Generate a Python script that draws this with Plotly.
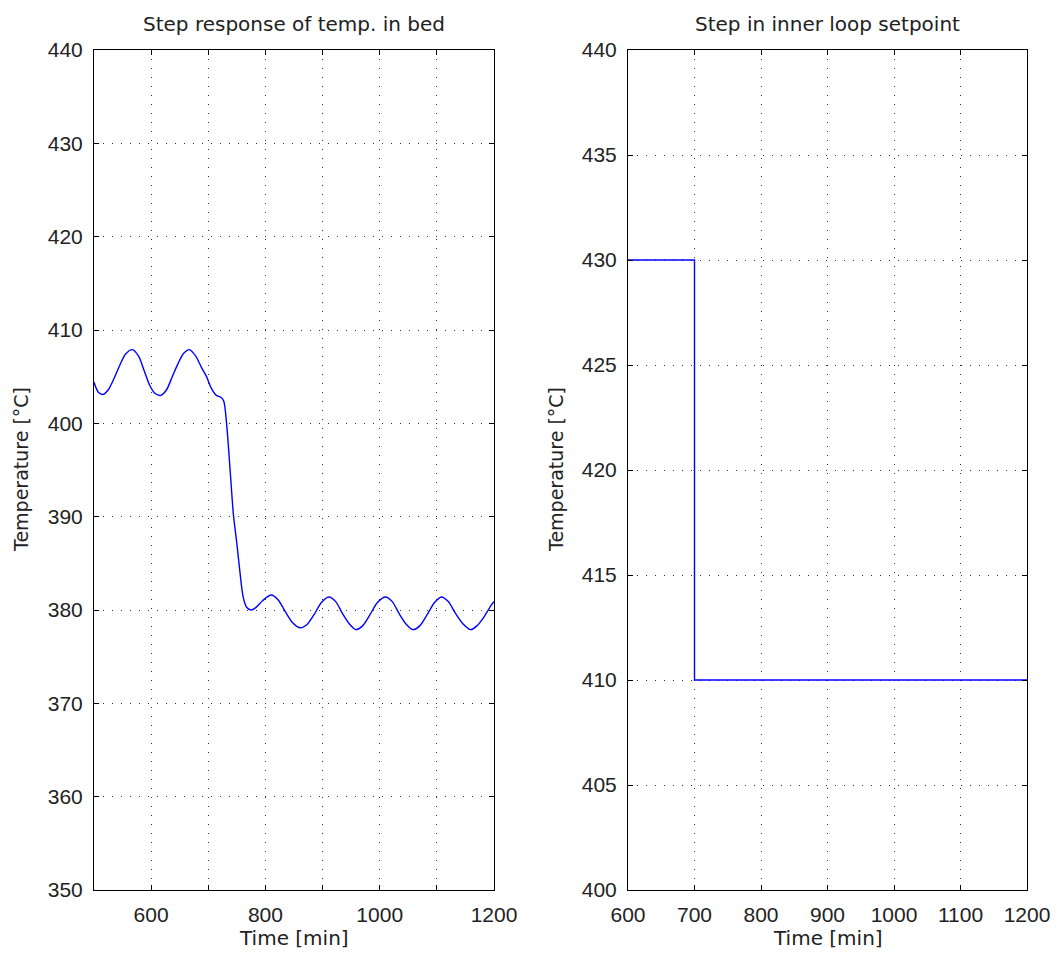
import plotly.graph_objects as go

# Left panel: step response of bed temperature
bed_time = [500, 508, 516, 525, 535, 545, 555, 567, 578, 588, 598, 607, 617, 627, 637, 647, 657, 667,
            678, 688, 697, 705, 714, 722, 727, 732, 739, 744, 750, 755, 761, 767, 775, 782, 795, 810,
            822, 835, 848, 860, 872, 885, 898, 911, 923, 935, 947, 958, 970, 983, 996, 1010, 1022,
            1034, 1046, 1058, 1070, 1083, 1096, 1108, 1120, 1133, 1146, 1159, 1170, 1183, 1196, 1200]
bed_temp = [404.4, 403.3, 403.1, 403.6, 404.8, 406.2, 407.4, 407.9, 407.2, 405.6, 404.0, 403.2, 403.0,
            403.6, 405.0, 406.4, 407.5, 407.9, 407.2, 406.0, 405.0, 403.8, 403.0, 402.8, 402.4, 400.0,
            394.3, 390.2, 387.1, 384.3, 381.4, 380.3, 380.0, 380.2, 381.0, 381.6, 381.1, 379.8, 378.6,
            378.1, 378.4, 379.5, 380.8, 381.4, 380.9, 379.6, 378.5, 377.9, 378.3, 379.5, 380.8, 381.4,
            380.9, 379.6, 378.5, 377.9, 378.3, 379.5, 380.8, 381.4, 380.9, 379.6, 378.5, 377.9, 378.3,
            379.3, 380.6, 380.9]

# Right panel: inner loop setpoint step
sp_time = [600, 700, 700, 1200]
sp_temp = [430, 430, 410, 410]

left_xticks = [600, 700, 800, 900, 1000, 1100, 1200]
left_xlabels = ["600", "", "800", "", "1000", "", "1200"]
left_yticks = [350, 360, 370, 380, 390, 400, 410, 420, 430, 440]
right_xticks = [600, 700, 800, 900, 1000, 1100, 1200]
right_yticks = [400, 405, 410, 415, 420, 425, 430, 435, 440]

titles = ["Step response of temp. in bed", "Step in inner loop setpoint"]
xlabel = "Time [min]"
ylabel = "Temperature [°C]"

TICKFONT = dict(family="Liberation Sans, Arial, sans-serif", size=21, color="#222222")
LABFONT = dict(family="DejaVu Sans, sans-serif", size=20, color="#222222")
W, H = 1059, 956

fig = go.Figure()
fig.add_trace(go.Scatter(x=bed_time, y=bed_temp, mode="lines",
                         line=dict(color="#0000ff", width=1.4, shape="spline", smoothing=0.8),
                         xaxis="x", yaxis="y", showlegend=False))
fig.add_trace(go.Scatter(x=sp_time, y=sp_temp, mode="lines", line=dict(color="#0000ff", width=1.4),
                         xaxis="x2", yaxis="y2", showlegend=False))

ax_common = dict(showline=True, linecolor="black", linewidth=1, mirror="allticks", ticks="inside",
                 ticklen=5, tickcolor="black", showgrid=True, gridcolor="#333333", gridwidth=1,
                 griddash="1px,8px", zeroline=False, tickfont=TICKFONT, automargin=False)

ydom = [1 - 890 / H, 1 - 50 / H]
fig.update_layout(
    width=W, height=H, margin=dict(l=0, r=0, t=0, b=0),
    paper_bgcolor="white", plot_bgcolor="white",
    xaxis=dict(domain=[94 / W, 494 / W], range=[500, 1200], tickvals=left_xticks, ticktext=left_xlabels,
               anchor="y", ticklabelstandoff=6, **ax_common),
    yaxis=dict(domain=ydom, range=[350, 440], tickvals=left_yticks, anchor="x", ticklabelstandoff=6,
               **ax_common),
    xaxis2=dict(domain=[628 / W, 1027 / W], range=[600, 1200], tickvals=right_xticks, anchor="y2",
                ticklabelstandoff=6, **ax_common),
    yaxis2=dict(domain=ydom, range=[400, 440], tickvals=right_yticks, anchor="x2", ticklabelstandoff=6,
                **ax_common),
)

ann = []
for cx, t in [((94 + 494) / 2, titles[0]), ((628 + 1027) / 2, titles[1])]:
    ann.append(dict(text=t, x=cx / W, y=1 - 24 / H, xref="paper", yref="paper", xanchor="center",
                    yanchor="middle", showarrow=False, font=LABFONT))
    ann.append(dict(text=xlabel, x=cx / W, y=1 - 938 / H, xref="paper", yref="paper", xanchor="center",
                    yanchor="middle", showarrow=False, font=LABFONT))
for cx in [21, 556]:
    ann.append(dict(text=ylabel, x=cx / W, y=1 - 470 / H, xref="paper", yref="paper", xanchor="center",
                    yanchor="middle", textangle=-90, showarrow=False,
                    font=dict(family="DejaVu Sans, sans-serif", size=19, color="#222222")))
fig.update_layout(annotations=ann)
fig.write_html("out.html")
